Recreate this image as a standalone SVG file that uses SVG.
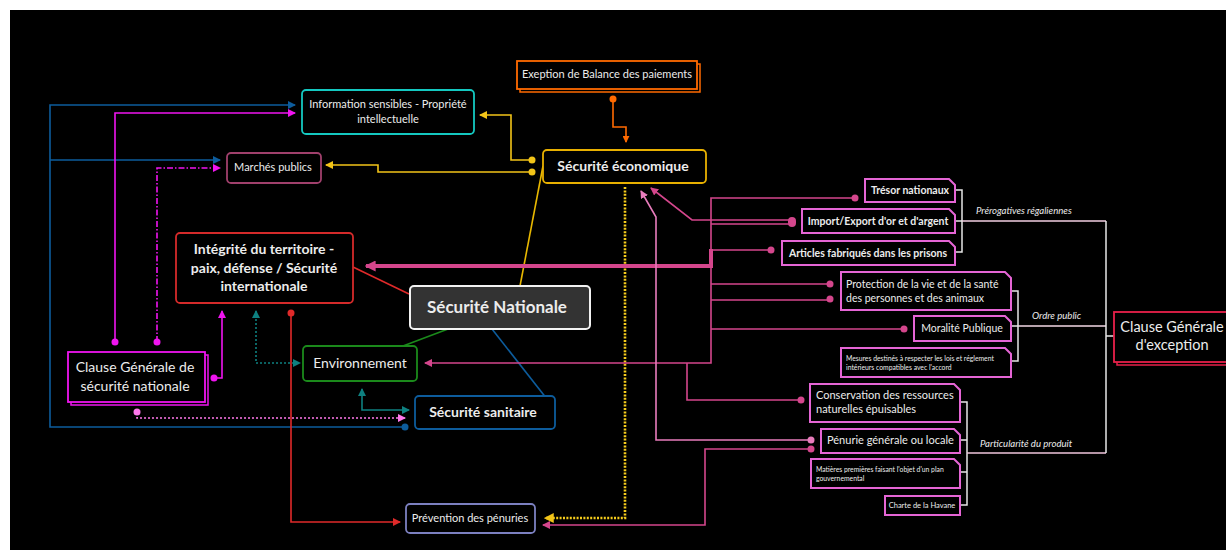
<svg xmlns="http://www.w3.org/2000/svg" width="1226" height="550" viewBox="0 0 1226 550">
<style>
text{font-family:Lato,"Open Sans","Liberation Sans",sans-serif;fill:#ececec}
.c{text-anchor:middle}
.b{font-weight:bold}
.n{fill:#000;stroke-width:1.8}
.pk{fill:#000;stroke:#e565d5;stroke-width:2}
.ln{fill:none;stroke-width:1.6}
.br{fill:none;stroke:#e6e6e6;stroke-width:1.5}
.lab{font-style:italic;font-size:9.6px}
</style>
<defs>
<marker id="aBlue" viewBox="0 0 8 8" refX="7" refY="4" markerWidth="8" markerHeight="8" markerUnits="userSpaceOnUse" orient="auto"><path d="M0,0L8,4L0,8z" fill="#0d5c9c"/></marker>
<marker id="aMag" viewBox="0 0 8 8" refX="7" refY="4" markerWidth="8" markerHeight="8" markerUnits="userSpaceOnUse" orient="auto"><path d="M0,0L8,4L0,8z" fill="#f014f0"/></marker>
<marker id="aLmag" viewBox="0 0 8 8" refX="7" refY="4" markerWidth="8" markerHeight="8" markerUnits="userSpaceOnUse" orient="auto"><path d="M0,0L8,4L0,8z" fill="#ff78ec"/></marker>
<marker id="aTeal" viewBox="0 0 8 8" refX="7" refY="4" markerWidth="8" markerHeight="8" markerUnits="userSpaceOnUse" orient="auto-start-reverse"><path d="M0,0L8,4L0,8z" fill="#0e8080"/></marker>
<marker id="aRed" viewBox="0 0 8 8" refX="7" refY="4" markerWidth="8" markerHeight="8" markerUnits="userSpaceOnUse" orient="auto"><path d="M0,0L8,4L0,8z" fill="#e02a2a"/></marker>
<marker id="aYel" viewBox="0 0 8 8" refX="7" refY="4" markerWidth="8" markerHeight="8" markerUnits="userSpaceOnUse" orient="auto"><path d="M0,0L8,4L0,8z" fill="#f2c418"/></marker>
<marker id="aYelD" viewBox="0 0 8 8" refX="7" refY="4" markerWidth="10" markerHeight="10" markerUnits="userSpaceOnUse" orient="auto"><path d="M0,0L8,4L0,8z" fill="#f2c418"/></marker>
<marker id="aOr" viewBox="0 0 8 8" refX="7" refY="4" markerWidth="7" markerHeight="7" markerUnits="userSpaceOnUse" orient="auto"><path d="M0,0L8,4L0,8z" fill="#ff6a00"/></marker>
<marker id="aPink" viewBox="0 0 8 8" refX="7" refY="4" markerWidth="8" markerHeight="8" markerUnits="userSpaceOnUse" orient="auto"><path d="M0,0L8,4L0,8z" fill="#d4468c"/></marker>
<marker id="aLpink" viewBox="0 0 8 8" refX="7" refY="4" markerWidth="8" markerHeight="8" markerUnits="userSpaceOnUse" orient="auto"><path d="M0,0L8,4L0,8z" fill="#e87cbc"/></marker>
<marker id="aThick" viewBox="0 0 8 8" refX="7" refY="4" markerWidth="11" markerHeight="11" markerUnits="userSpaceOnUse" orient="auto"><path d="M0,0L8,4L0,8z" fill="#d4468c"/></marker>
</defs>
<rect x="0" y="0" width="1226" height="550" fill="#fff"/>
<rect x="10" y="10" width="1216" height="540" fill="#000"/>

<g id="connectors">
<!-- blue -->
<path class="ln" stroke="#0d5c9c" d="M405,427H50V105H295" marker-end="url(#aBlue)"/>
<path class="ln" stroke="#0d5c9c" d="M50,160H220" marker-end="url(#aBlue)"/>
<circle cx="405" cy="427" r="3.5" fill="#0d5c9c"/>
<path class="ln" stroke="#0d5c9c" d="M492,329L554,408"/>
<!-- magenta -->
<path class="ln" stroke="#f014f0" d="M115,342V113H295" marker-end="url(#aMag)"/>
<circle cx="115" cy="342" r="3.5" fill="#f014f0"/>
<path class="ln" stroke="#f014f0" stroke-dasharray="6,2,1.5,2" d="M157,342V168H220" marker-end="url(#aMag)"/>
<circle cx="157" cy="342" r="3.5" fill="#f014f0"/>
<path class="ln" stroke="#f014f0" d="M214,378H222V311" marker-end="url(#aMag)"/>
<circle cx="214" cy="378" r="3.5" fill="#f014f0"/>
<path class="ln" stroke="#ff78ec" stroke-dasharray="2,2" d="M137,413V418H405" marker-end="url(#aLmag)"/>
<circle cx="137" cy="412" r="3.5" fill="#ff78ec"/>
<!-- teal -->
<path class="ln" stroke="#0e8080" stroke-dasharray="2,2" d="M256,311V363H300" marker-start="url(#aTeal)" marker-end="url(#aTeal)"/>
<path class="ln" stroke="#0e8080" d="M409,410H362V389" marker-start="url(#aTeal)" marker-end="url(#aTeal)"/>
<!-- red -->
<path class="ln" stroke="#e02a2a" d="M291,313V522H400" marker-end="url(#aRed)"/>
<circle cx="291" cy="313" r="3.5" fill="#e02a2a"/>
<path class="ln" stroke="#e02a2a" d="M353,267L409,294"/>
<!-- green -->
<path class="ln" stroke="#1b8a1b" d="M448,329L403,346"/>
<!-- yellow -->
<path class="ln" stroke="#e8b800" d="M520,286L543,166"/>
<path class="ln" stroke="#f2c418" d="M532,160H511V115H480" marker-end="url(#aYel)"/>
<circle cx="532" cy="160" r="3.5" fill="#f2c418"/>
<path class="ln" stroke="#f2c418" d="M532,172H378V165H326" marker-end="url(#aYel)"/>
<circle cx="532" cy="172" r="3.5" fill="#f2c418"/>
<path fill="none" stroke="#f5cc1c" stroke-width="2.6" stroke-dasharray="2,1.4" d="M625,187V518H545" marker-end="url(#aYelD)"/>
<!-- orange -->
<path class="ln" stroke="#ff6a00" d="M613,99V127H626V142" marker-end="url(#aOr)"/>
<circle cx="613" cy="99" r="3.5" fill="#ff6a00"/>
<!-- pink -->
<path fill="none" stroke="#d4468c" stroke-width="4" d="M711,249V266H366" marker-end="url(#aThick)"/>
<path class="ln" stroke="#d4468c" d="M855,198H711V363H425" marker-end="url(#aPink)"/>
<circle cx="855" cy="198" r="3.5" fill="#d4468c"/>
<path class="ln" stroke="#d4468c" d="M792,224H711"/>
<path class="ln" stroke="#d4468c" d="M792,220H692L651,188" marker-end="url(#aPink)"/>
<rect x="788" y="217" width="8" height="10" rx="4" fill="#d4468c"/>
<path class="ln" stroke="#d4468c" d="M771,250H711"/>
<circle cx="771" cy="250" r="3.5" fill="#d4468c"/>
<path class="ln" stroke="#d4468c" d="M830,284H711M830,300H711M904,329H711"/>
<circle cx="830" cy="284" r="3.5" fill="#d4468c"/>
<circle cx="830" cy="299" r="3.5" fill="#d4468c"/>
<circle cx="904" cy="329" r="3.5" fill="#d4468c"/>
<path class="ln" stroke="#d4468c" d="M801,400H687V363"/>
<circle cx="801" cy="400" r="3.5" fill="#d4468c"/>
<path class="ln" stroke="#e87cbc" d="M811,440H656V217L641,191" marker-end="url(#aLpink)"/>
<circle cx="811" cy="440" r="3.5" fill="#e87cbc"/>
<path class="ln" stroke="#d4468c" d="M811,449H705V525H543" marker-end="url(#aPink)"/>
<circle cx="811" cy="449" r="3.5" fill="#d4468c"/>
<!-- brackets -->
<path class="br" d="M955,190H962V252H955M955,221H962"/>
<path fill="none" stroke="#f3cfe2" stroke-width="1.5" d="M962,221H1106"/>
<path class="br" d="M1011,291H1018V361H1011M1011,326H1018"/>
<path fill="none" stroke="#f3d8e6" stroke-width="1.5" d="M1018,326H1106"/>
<path class="br" d="M960,402H967V505H960M960,440H967M960,472H967"/>
<path fill="none" stroke="#f0c6dc" stroke-width="1.5" d="M967,453H1106"/>
<path class="br" d="M1106,221V453M1106,336H1114"/>
</g>

<g id="n-nationale">
<rect x="410" y="286" width="180" height="43" rx="4" fill="#333" stroke="#f2f2f2" stroke-width="2"/>
<text class="c b" x="497" y="313" font-size="17">Sécurité Nationale</text>
</g>
<g id="n-economique">
<rect class="n" x="543" y="150" width="163" height="33" rx="4" stroke="#e8b000"/>
<text class="c b" x="623" y="171" font-size="14">Sécurité économique</text>
</g>
<g id="n-balance">
<rect x="520" y="64" width="180" height="28" fill="none" stroke="#ff6a00" stroke-width="1.5"/>
<rect class="n" x="517" y="61" width="180" height="28" stroke="#ff6a00"/>
<text class="c" x="607" y="78" font-size="11">Exeption de Balance des paiements</text>
</g>
<g id="n-info">
<rect class="n" x="302" y="90" width="172" height="44" rx="4" stroke="#14c8c0"/>
<text class="c" x="388" y="108" font-size="11">Information sensibles - Propriété</text>
<text class="c" x="388" y="123" font-size="11">intellectuelle</text>
</g>
<g id="n-marches">
<rect class="n" x="227" y="153" width="94" height="30" rx="4" stroke="#a0406c"/>
<text class="c" x="273" y="171" font-size="11">Marchés publics</text>
</g>
<g id="n-integrite">
<rect class="n" x="176" y="233" width="177" height="70" rx="4" stroke="#d42a2a"/>
<text class="c b" x="264" y="254" font-size="14">Intégrité du territoire -</text>
<text class="c b" x="264" y="273" font-size="14">paix, défense / Sécurité</text>
<text class="c b" x="264" y="291" font-size="14">internationale</text>
</g>
<g id="n-clause-nat">
<rect x="71" y="355" width="137" height="50" fill="none" stroke="#f014f0" stroke-width="1.5"/>
<rect class="n" x="68" y="352" width="137" height="50" stroke="#f014f0"/>
<text class="c" x="135" y="372" font-size="14">Clause Générale de</text>
<text class="c" x="135" y="391" font-size="14">sécurité nationale</text>
</g>
<g id="n-environnement">
<rect class="n" x="303" y="346" width="114" height="35" rx="4" stroke="#1b8a1b"/>
<text class="c" x="360" y="368" font-size="14">Environnement</text>
</g>
<g id="n-sanitaire">
<rect class="n" x="415" y="396" width="140" height="33" rx="4" stroke="#0d5c9c"/>
<text class="c b" x="483" y="417" font-size="14">Sécurité sanitaire</text>
</g>
<g id="n-prevention">
<rect class="n" x="406" y="504" width="129" height="29" rx="4" stroke="#7c80c0"/>
<text class="c" x="470" y="522" font-size="11">Prévention des pénuries</text>
</g>

<g id="n-tresor">
<path class="pk" d="M865,179H949L955,185V202H865Z"/>
<text class="c b" x="910" y="194" font-size="10.5">Trésor nationaux</text>
</g>
<g id="n-import">
<path class="pk" d="M802,209H949L955,215V233H802Z"/>
<text class="c b" x="878" y="225" font-size="10.5">Import/Export d'or et d'argent</text>
</g>
<g id="n-articles">
<path class="pk" d="M782,241H949L955,247V265H782Z"/>
<text class="c b" x="868" y="257" font-size="10.5">Articles fabriqués dans les prisons</text>
</g>
<g id="n-protection">
<path class="pk" d="M841,272H1005L1011,278V310H841Z"/>
<text x="846" y="288" font-size="10.5">Protection de la vie et de la santé</text>
<text x="846" y="302" font-size="10.5">des personnes et des animaux</text>
</g>
<g id="n-moralite">
<path class="pk" d="M914,316H1005L1011,322V341H914Z"/>
<text class="c" x="962" y="332" font-size="10.5">Moralité Publique</text>
</g>
<g id="n-mesures">
<path class="pk" d="M841,348H1005L1011,354V377H841Z"/>
<text x="846" y="361" font-size="6.8">Mesures destinés à respecter les lois et réglement</text>
<text x="846" y="370" font-size="6.8">intérieurs compatibles avec l'accord</text>
</g>
<g id="n-conservation">
<path class="pk" d="M810,384H954L960,390V422H810Z"/>
<text x="816" y="399" font-size="11">Conservation des ressources</text>
<text x="816" y="413" font-size="11">naturelles épuisables</text>
</g>
<g id="n-penurie">
<path class="pk" d="M821,429H954L960,435V453H821Z"/>
<text x="827" y="444" font-size="11">Pénurie générale ou locale</text>
</g>
<g id="n-matieres">
<path class="pk" d="M811,459H954L960,465V488H811Z"/>
<text x="816" y="472" font-size="6.8">Matières premières faisant l'objet d'un plan</text>
<text x="816" y="481" font-size="6.8">gouvernemental</text>
</g>
<g id="n-havane">
<path class="pk" d="M885,496H960V515H885Z"/>
<text class="c" x="922" y="508" font-size="7.5">Charte de la Havane</text>
</g>
<g id="labels">
<text class="lab" x="976" y="214">Prérogatives régaliennes</text>
<text class="lab" x="1032" y="319">Ordre public</text>
<text class="lab" x="980" y="447">Particularité du produit</text>
</g>
<g id="n-clause-exc">
<rect x="1117" y="315" width="115" height="50" fill="none" stroke="#e8204a" stroke-width="1.5"/>
<rect class="n" x="1114" y="312" width="115" height="50" stroke="#e8204a"/>
<text class="c" x="1172" y="332" font-size="14.5">Clause Générale</text>
<text class="c" x="1172" y="350" font-size="14.5">d'exception</text>
</g>
</svg>
